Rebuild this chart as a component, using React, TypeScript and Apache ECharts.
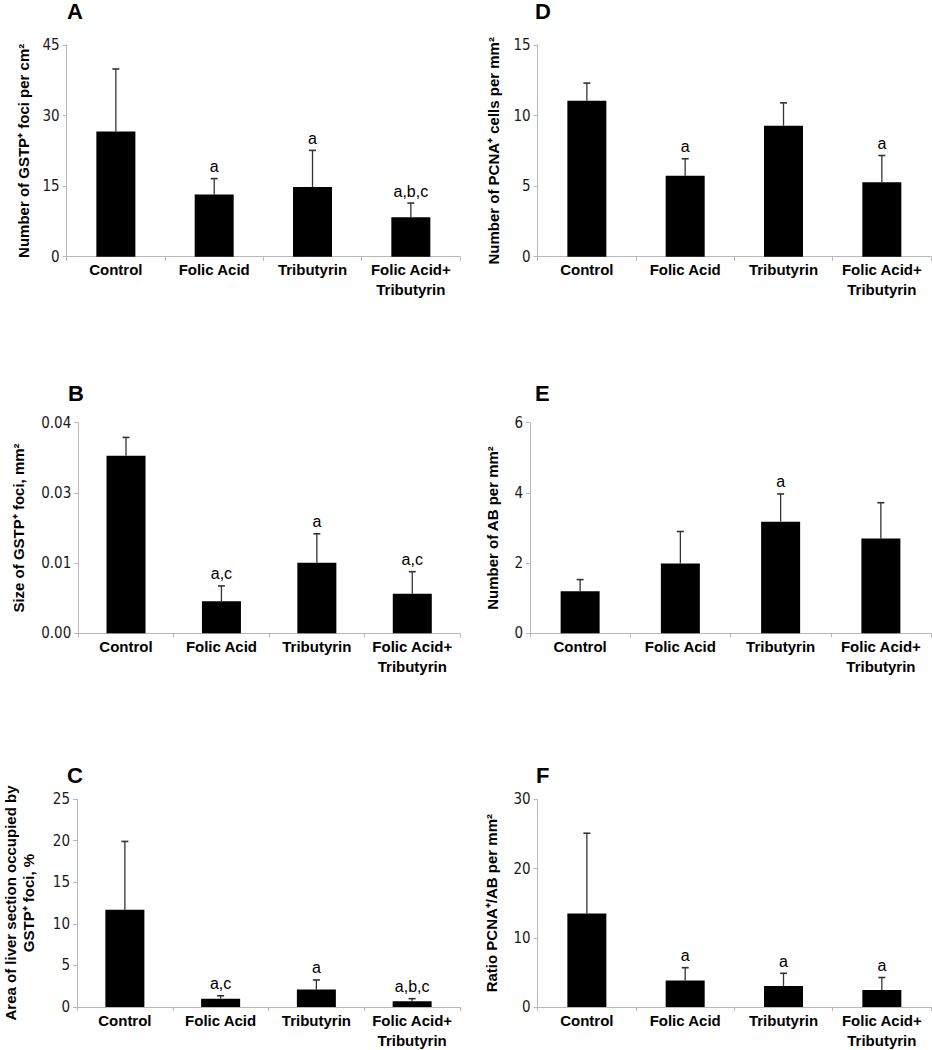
import React, { useEffect, useRef } from "react";
import * as echarts from "echarts";

// ---------- data ----------
const categories = ["Control", "Folic Acid", "Tributyrin", "Folic Acid+\nTributyrin"];

// A: number of GSTP+ foci per cm2
const fociNumberMean = [26.6, 13.2, 14.8, 8.4];
const fociNumberSd = [13.3, 3.4, 7.8, 3.0];
const fociNumberSig = ["", "a", "a", "a,b,c"];
const fociNumberTicks = { max: 45, interval: 15 };

// B: size of GSTP+ foci, mm2
const fociSizeMean = [0.0337, 0.0061, 0.0134, 0.0075];
const fociSizeSd = [0.0035, 0.0029, 0.0055, 0.0042];
const fociSizeSig = ["", "a,c", "a", "a,c"];
const fociSizeTicks = { max: 0.04, interval: 0.04 / 3 };

// C: area of liver section occupied by GSTP+ foci, %
const fociAreaMean = [11.7, 1.0, 2.1, 0.7];
const fociAreaSd = [8.2, 0.35, 1.15, 0.3];
const fociAreaSig = ["", "a,c", "a", "a,b,c"];
const fociAreaTicks = { max: 25, interval: 5 };

// D: number of PCNA+ cells per mm2
const pcnaMean = [11.05, 5.74, 9.28, 5.27];
const pcnaSd = [1.25, 1.2, 1.62, 1.9];
const pcnaSig = ["", "a", "", "a"];
const pcnaTicks = { max: 15, interval: 5 };

// E: number of AB per mm2
const abMean = [1.2, 1.99, 3.18, 2.7];
const abSd = [0.33, 0.91, 0.79, 1.02];
const abSig = ["", "", "a", ""];
const abTicks = { max: 6, interval: 2 };

// F: ratio PCNA+/AB per mm2
const ratioMean = [13.5, 3.83, 3.03, 2.46];
const ratioSd = [11.6, 1.85, 1.84, 1.8];
const ratioSig = ["", "a", "a", "a"];
const ratioTicks = { max: 30, interval: 10 };

// ---------- layout / style ----------
const SANS = "'Liberation Sans', Arial, Helvetica, sans-serif";
const NARROW = "'Liberation Sans Narrow', 'DejaVu Sans Condensed', 'Arial Narrow', 'Liberation Sans', sans-serif";
const AXIS_GREY = "#b8b8b8";

const panels = [
  {
    letter: "A", mean: fociNumberMean, sd: fociNumberSd, sig: fociNumberSig, ticks: fociNumberTicks,
    title: "Number of GSTP⁺ foci per cm²", decimals: 0,
    grid: { left: 66.7, top: 45, width: 393.3, height: 211.7 }, nameGap: 34, letterPos: [67, 0],
  },
  {
    letter: "B", mean: fociSizeMean, sd: fociSizeSd, sig: fociSizeSig, ticks: fociSizeTicks,
    title: "Size of GSTP⁺ foci, mm²", decimals: 2,
    grid: { left: 78.3, top: 422.7, width: 381.7, height: 210.6 }, nameGap: 51, letterPos: [68, 382],
  },
  {
    letter: "C", mean: fociAreaMean, sd: fociAreaSd, sig: fociAreaSig, ticks: fociAreaTicks,
    title: "Area of liver section occupied by\nGSTP⁺ foci, %", decimals: 0,
    grid: { left: 71, top: 799, width: 389, height: 211.7 }, nameGap: 40, letterPos: [67, 764],
  },
  {
    letter: "D", mean: pcnaMean, sd: pcnaSd, sig: pcnaSig, ticks: pcnaTicks,
    title: "Number of PCNA⁺ cells per mm²", decimals: 0,
    grid: { left: 537.7, top: 45, width: 393.3, height: 211.7 }, nameGap: 35, letterPos: [535, 0],
  },
  {
    letter: "E", mean: abMean, sd: abSd, sig: abSig, ticks: abTicks,
    title: "Number of AB per mm²", decimals: 0,
    grid: { left: 530, top: 422.7, width: 401, height: 210.6 }, nameGap: 29, letterPos: [535, 382],
  },
  {
    letter: "F", mean: ratioMean, sd: ratioSd, sig: ratioSig, ticks: ratioTicks,
    title: "Ratio PCNA⁺/AB per mm²", decimals: 0,
    grid: { left: 537.7, top: 799.3, width: 393.3, height: 211.4 }, nameGap: 37, letterPos: [536, 764],
  },
];

function buildOption() {
  const grid: any[] = [];
  const xAxis: any[] = [];
  const yAxis: any[] = [];
  const series: any[] = [];
  const graphic: any[] = [];

  panels.forEach((p, idx) => {
    grid.push({ ...p.grid, containLabel: false });
    xAxis.push({
      type: "category",
      gridIndex: idx,
      data: categories,
      axisLine: { show: true, lineStyle: { color: AXIS_GREY, width: 1 } },
      axisTick: { show: true, length: 4, lineStyle: { color: AXIS_GREY } },
      axisLabel: {
        interval: 0,
        margin: 3,
        fontFamily: SANS,
        fontWeight: "bold",
        fontSize: 15,
        lineHeight: 20,
        color: "#000",
      },
      splitLine: { show: false },
    });
    yAxis.push({
      type: "value",
      gridIndex: idx,
      min: 0,
      max: p.ticks.max,
      interval: p.ticks.interval,
      axisLine: { show: true, lineStyle: { color: AXIS_GREY, width: 1 } },
      axisTick: { show: true, length: 4, lineStyle: { color: AXIS_GREY } },
      splitLine: { show: false },
      axisLabel: {
        fontFamily: NARROW,
        fontSize: 15,
        color: "#1a1a1a",
        margin: 7,
        formatter: (v: number) => v.toFixed(p.decimals),
      },
      name: p.title,
      nameLocation: "middle",
      nameGap: p.nameGap,
      nameTextStyle: {
        fontFamily: SANS,
        fontWeight: "bold",
        fontSize: 15,
        lineHeight: 18,
        color: "#000",
      },
    });
    series.push({
      type: "bar",
      xAxisIndex: idx,
      yAxisIndex: idx,
      data: p.mean,
      barWidth: 39,
      itemStyle: { color: "#000" },
      silent: true,
      z: 2,
    });
    const errData = p.mean.map((m, i) => [i, m, m + p.sd[i]]);
    series.push({
      type: "custom",
      xAxisIndex: idx,
      yAxisIndex: idx,
      data: errData,
      z: 3,
      silent: true,
      renderItem: (params: any, api: any) => {
        const i = api.value(0);
        const base = api.coord([i, api.value(1)]);
        const top = api.coord([i, api.value(2)]);
        const letter = p.sig[params.dataIndex];
        const children: any[] = [
          {
            type: "line",
            shape: { x1: base[0], y1: base[1], x2: top[0], y2: top[1] },
            style: { stroke: "#333", lineWidth: 1.3 },
          },
          {
            type: "line",
            shape: { x1: top[0] - 3.5, y1: top[1], x2: top[0] + 3.5, y2: top[1] },
            style: { stroke: "#333", lineWidth: 1.6 },
          },
        ];
        if (letter) {
          children.push({
            type: "text",
            x: top[0],
            y: top[1] - 4,
            style: {
              text: letter,
              fontFamily: SANS,
              fontSize: 16,
              fill: "#000",
              align: "center",
              verticalAlign: "bottom",
            },
          });
        }
        return { type: "group", children };
      },
    });
    graphic.push({
      type: "text",
      left: p.letterPos[0],
      top: p.letterPos[1],
      style: {
        text: p.letter,
        fontFamily: SANS,
        fontWeight: "bold",
        fontSize: 22,
        fill: "#000",
      },
    });
  });

  return {
    animation: false,
    backgroundColor: "#ffffff",
    grid,
    xAxis,
    yAxis,
    series,
    graphic,
  };
}

export default function App() {
  const ref = useRef<HTMLDivElement>(null);
  useEffect(() => {
    if (!ref.current) return;
    const chart = echarts.init(ref.current, undefined, { renderer: "svg" });
    chart.setOption(buildOption() as any);
    return () => chart.dispose();
  }, []);
  return (
    <div
      ref={ref}
      style={{ position: "absolute", left: 0, top: 0, width: 932, height: 1050, background: "#fff" }}
    />
  );
}
